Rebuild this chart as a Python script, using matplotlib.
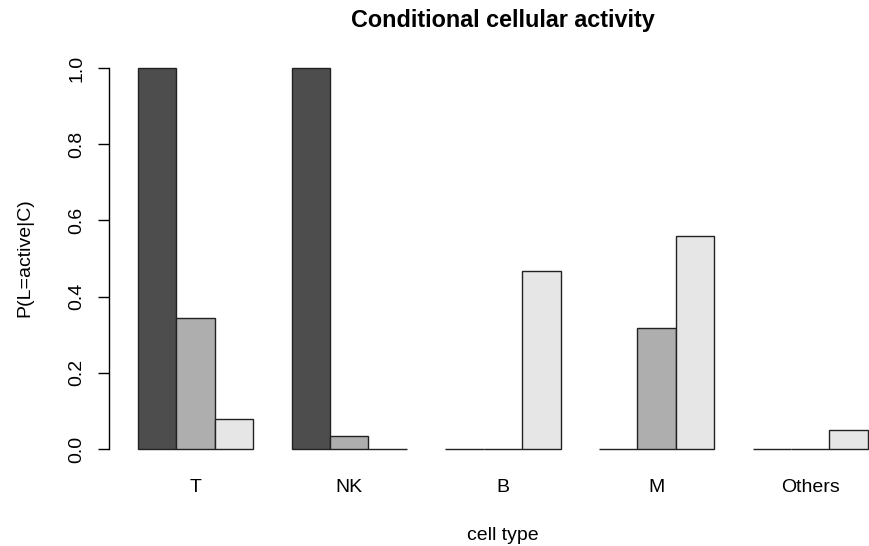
import matplotlib
matplotlib.use("Agg")
import matplotlib.pyplot as plt
import numpy as np

plt.rcParams['font.family'] = ['Liberation Sans', 'DejaVu Sans']

cell_types = ["T", "NK", "B", "M", "Others"]
level1 = [1.0, 1.0, 0.0, 0.0, 0.0]
level2 = [0.343, 0.034, 0.0, 0.318, 0.0]
level3 = [0.078, 0.0, 0.467, 0.559, 0.05]
colors = ["#4D4D4D", "#AEAEAE", "#E6E6E6"]

fig = plt.figure(figsize=(8.69, 5.46), dpi=100)
ax = fig.add_axes([0.1252, 0.1498, 0.907, 0.7535])

# R style barplot(beside=TRUE): space of 1 before each group, bars width 1
series = [level1, level2, level3]
ngroups = len(cell_types)
for j, vals in enumerate(series):
    xs = [1 + g * 4 + j for g in range(ngroups)]
    ax.bar(xs, vals, width=1.0, align='edge', color=colors[j],
           edgecolor='#222222', linewidth=1.0)

centers = [1 + g * 4 + 1.5 for g in range(ngroups)]
ax.set_xticks(centers)
ax.set_xticklabels(cell_types, fontsize=14)
ax.tick_params(axis='x', length=0, pad=10.5)

ax.set_xlim(0.24, 20.76)
ax.set_ylim(-0.04, 1.04)
ax.set_yticks([0.0, 0.2, 0.4, 0.6, 0.8, 1.0])
ax.set_yticklabels(["0.0", "0.2", "0.4", "0.6", "0.8", "1.0"], fontsize=14,
                   rotation=90, va='center')
ax.tick_params(axis='y', length=8, width=1.0, pad=9)

for s in ['top', 'right', 'bottom']:
    ax.spines[s].set_visible(False)
ax.spines['left'].set_bounds(0, 1)
ax.spines['left'].set_linewidth(1.0)

fig.text(503 / 869, 1 - 27 / 546, "Conditional cellular activity",
         ha='center', va='baseline', fontsize=16.8, fontweight='bold')
fig.text(503 / 869, 1 - 540 / 546, "cell type", ha='center', va='baseline',
         fontsize=14)
fig.text(25 / 869, 1 - 258 / 546, "P(L=active|C)", ha='center', va='center',
         rotation=90, fontsize=14)

fig.savefig("out.png", dpi=100)
